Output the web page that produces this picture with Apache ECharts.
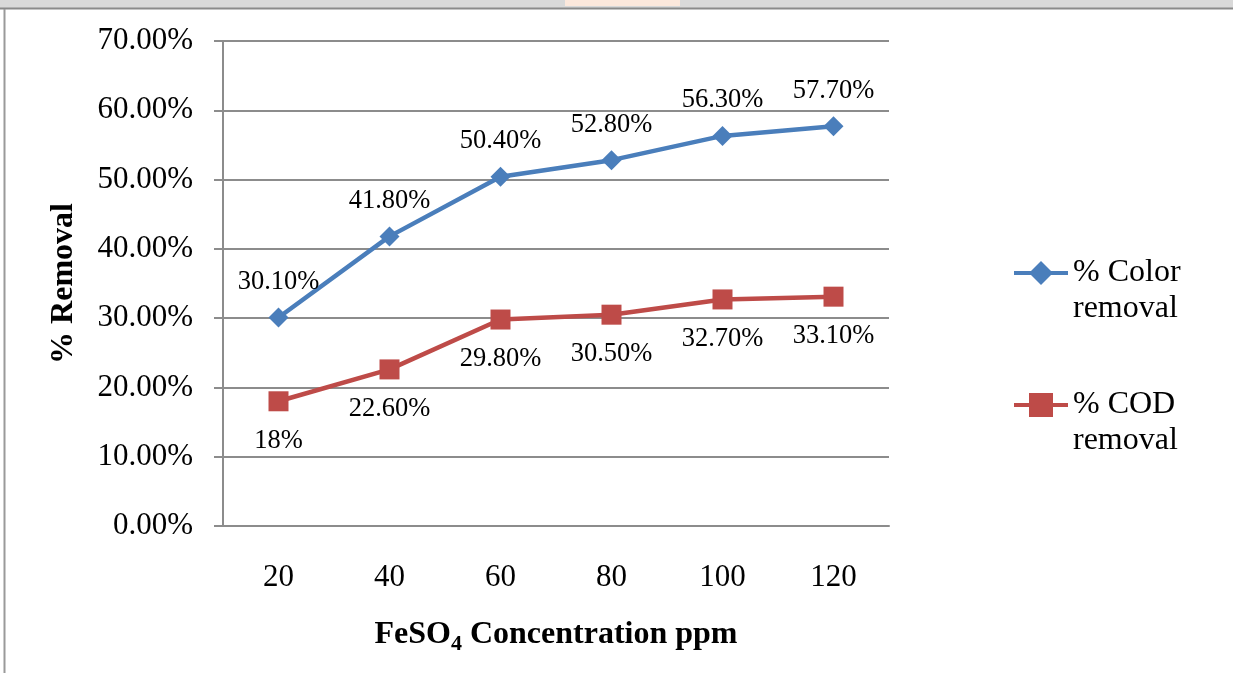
<!DOCTYPE html>
<html>
<head>
<meta charset="utf-8">
<script src="https://cdn.jsdelivr.net/npm/echarts@6/dist/echarts.min.js"></script>
<style>
  html, body { margin: 0; padding: 0; background: #fff; }
  #chart { width: 1233px; height: 673px; }
</style>
</head>
<body>
<div id="chart"></div>
<script>
// data
var categories = ['20', '40', '60', '80', '100', '120']
var colorRemoval = [30.1, 41.8, 50.4, 52.8, 56.3, 57.7]
var codRemoval = [18, 22.6, 29.8, 30.5, 32.7, 33.1]
var colorLabels = ['30.10%', '41.80%', '50.40%', '52.80%', '56.30%', '57.70%']
var codLabels = ['18%', '22.60%', '29.80%', '30.50%', '32.70%', '33.10%']

var font = 'Liberation Serif'
var gridColor = '#8c8c8c'

var echart = echarts.init(document.getElementById('chart'))

var option = {
    animation: false,
    textStyle: { fontFamily: font, color: '#000' },
    graphic: [
        // page frame bits around the chart
        { type: 'rect', shape: { x: 0, y: 0, width: 1233, height: 8 }, style: { fill: '#d9d9d9' }, silent: true },
        { type: 'rect', shape: { x: 565, y: 0, width: 115, height: 6 }, style: { fill: '#fce8dc' }, silent: true },
        { type: 'line', shape: { x1: 0, y1: 8.5, x2: 1233, y2: 8.5 }, style: { stroke: '#8a8a8a', lineWidth: 2 }, silent: true },
        { type: 'line', shape: { x1: 4.5, y1: 9, x2: 4.5, y2: 673 }, style: { stroke: '#9a9a9a', lineWidth: 2 }, silent: true }
    ],
    grid: {
        left: 223,
        right: 344,
        top: 41,
        bottom: 147
    },
    legend: {
        orient: 'vertical',
        left: 1012,
        top: 219,
        padding: 0,
        itemWidth: 54,
        itemHeight: 30,
        itemGap: 24,
        lineStyle: { width: 4 },
        // blank first line keeps the icon level with the first text line
        formatter: function (name) { return '\n' + name },
        textStyle: {
            fontFamily: font,
            fontSize: 32,
            color: '#000',
            lineHeight: 36
        },
        data: ['% Color\nremoval', '% COD\nremoval']
    },
    xAxis: {
        type: 'category',
        data: categories,
        boundaryGap: true,
        axisLine: { lineStyle: { color: gridColor, width: 2 } },
        axisTick: { show: false },
        axisLabel: { fontFamily: font, fontSize: 31, color: '#000', margin: 36 },
        name: '{a|FeSO}{s|4}{a| Concentration ppm}',
        nameLocation: 'middle',
        nameGap: 89,
        nameTextStyle: {
            rich: {
                a: { fontFamily: font, fontSize: 32, fontWeight: 'bold', color: '#000' },
                s: { fontFamily: font, fontSize: 22, fontWeight: 'bold', color: '#000', padding: [18, 0, 0, 0] }
            }
        }
    },
    yAxis: {
        type: 'value',
        min: 0,
        max: 70,
        interval: 10,
        axisLine: { show: true, lineStyle: { color: gridColor, width: 2 } },
        axisTick: { show: true, length: 9, lineStyle: { color: gridColor, width: 2 } },
        splitLine: { show: true, lineStyle: { color: gridColor, width: 2 } },
        axisLabel: {
            fontFamily: font,
            fontSize: 31,
            color: '#000',
            margin: 30,
            formatter: function (v) { return v.toFixed(2) + '%' }
        },
        name: '% Removal',
        nameLocation: 'middle',
        nameGap: 143,
        nameTextStyle: { fontFamily: font, fontSize: 32, fontWeight: 'bold', color: '#000' }
    },
    series: [
        {
            name: '% Color\nremoval',
            type: 'line',
            data: colorRemoval,
            symbol: 'diamond',
            symbolSize: 20,
            color: '#4a7ebb',
            lineStyle: { color: '#4a7ebb', width: 4.5 },
            itemStyle: { color: '#4a7ebb' },
            label: {
                show: true,
                position: 'top',
                distance: 12,
                fontFamily: font,
                fontSize: 26.5,
                color: '#000',
                formatter: function (p) { return colorLabels[p.dataIndex] }
            }
        },
        {
            name: '% COD\nremoval',
            type: 'line',
            data: codRemoval,
            symbol: 'rect',
            symbolSize: 20,
            color: '#be4b48',
            lineStyle: { color: '#be4b48', width: 4.5 },
            itemStyle: { color: '#be4b48' },
            label: {
                show: true,
                position: 'bottom',
                distance: 16,
                fontFamily: font,
                fontSize: 26.5,
                color: '#000',
                formatter: function (p) { return codLabels[p.dataIndex] }
            }
        }
    ]
}
echart.setOption(option)
</script>
</body>
</html>
